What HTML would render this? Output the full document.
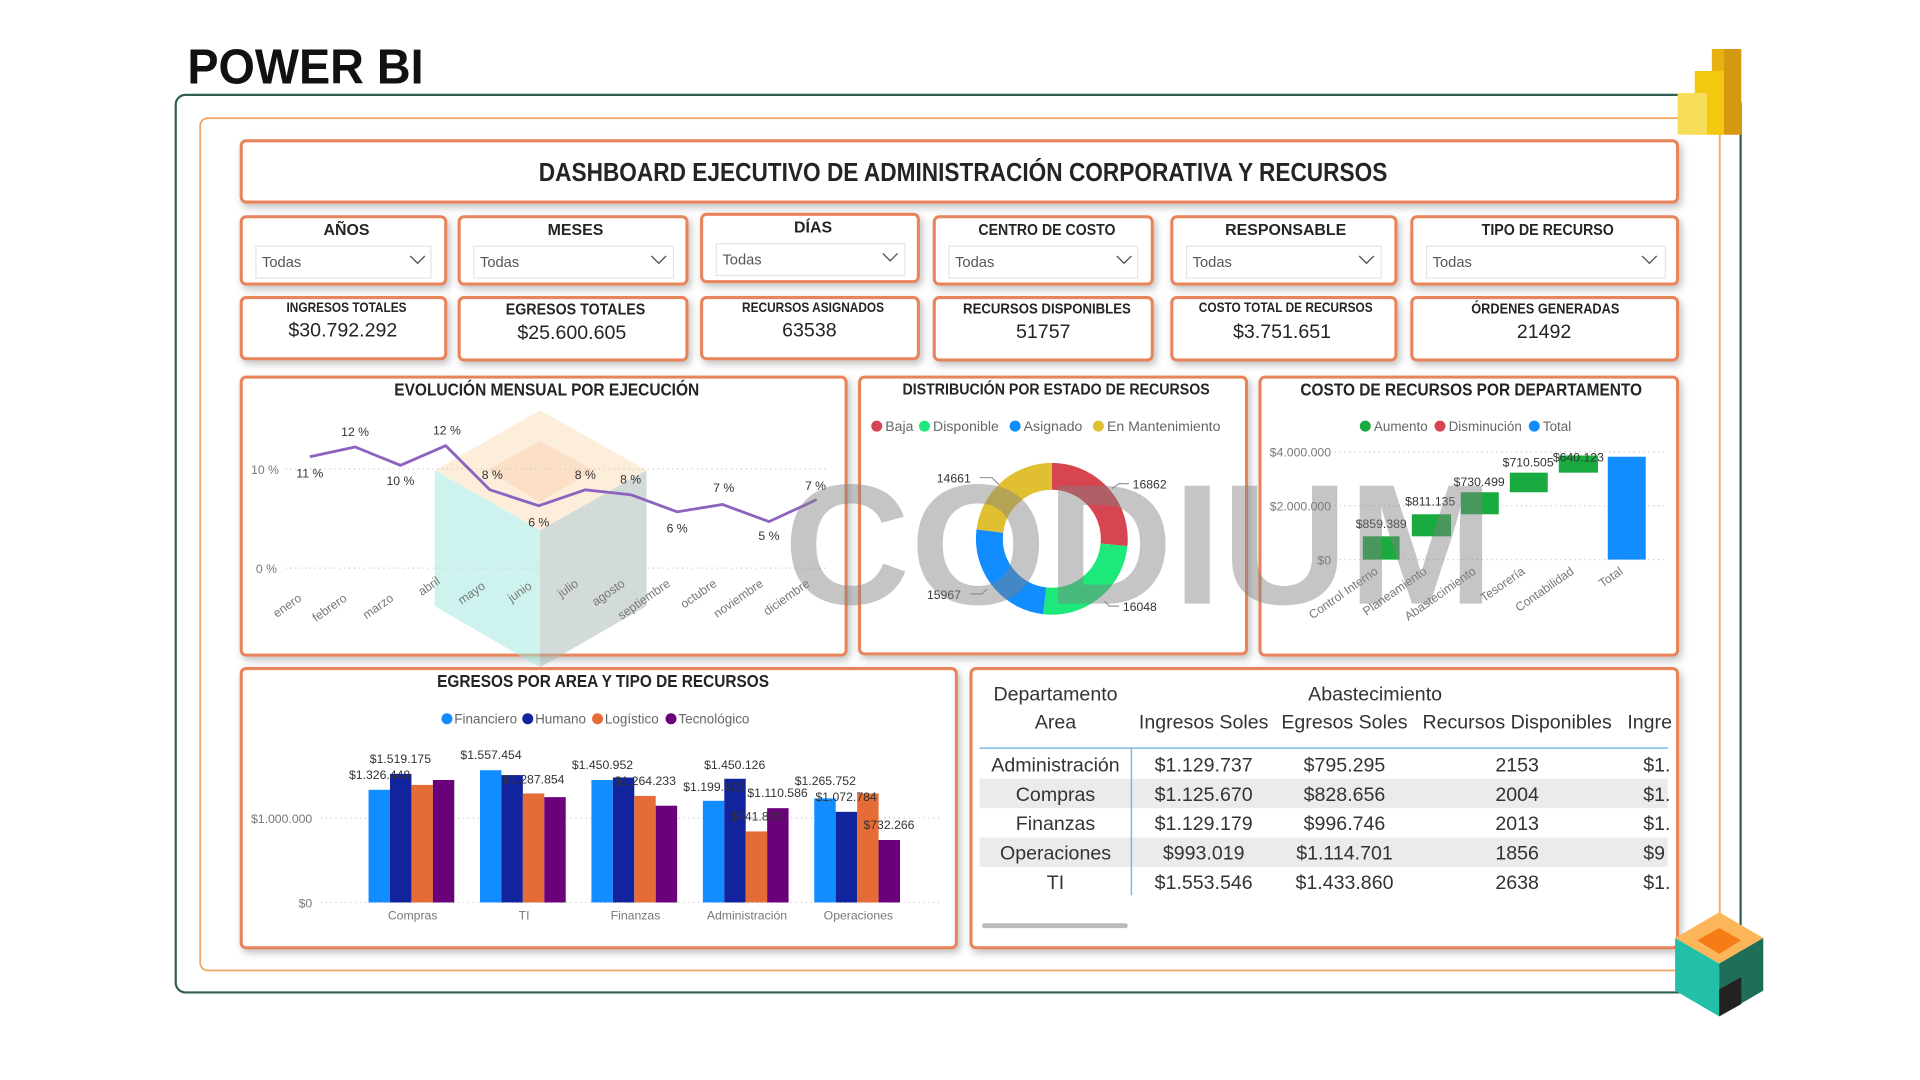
<!DOCTYPE html>
<html><head><meta charset="utf-8"><style>
html,body{margin:0;padding:0;background:#fff;width:1920px;height:1080px;overflow:hidden}
svg{display:block}
text{font-family:"Liberation Sans Narrow","Liberation Sans",sans-serif}
.t{font-weight:bold;fill:#252423}
.ax{fill:#777;font-size:10px}
.lb{fill:#333;font-size:10px}
.tb{font-family:"Liberation Sans",sans-serif;fill:#333;font-size:16px}
</style></head><body>
<svg width="1920" height="1080" viewBox="0 0 1920 1080">
<defs>
<filter id="sh" x="-5%" y="-10%" width="110%" height="130%"><feDropShadow dx="2" dy="3" stdDeviation="3" flood-color="#000" flood-opacity="0.25"/></filter>
</defs>
<g transform="scale(1.22449)">
<text x="153" y="68" font-size="40" font-weight="bold" fill="#111" textLength="193" lengthAdjust="spacingAndGlyphs" style="font-family:'Liberation Sans',sans-serif">POWER BI</text>
<rect x="143.5" y="77.5" width="1278" height="733" rx="8" fill="none" stroke="#2e5e4e" stroke-width="1.8"/>
<rect x="163.5" y="96.5" width="1241" height="696" rx="6" fill="none" stroke="#f0a868" stroke-width="1.5"/>
<!-- power bi logo -->
<rect x="1398" y="40" width="24" height="70" fill="#e8b012"/>
<rect x="1384" y="58" width="24" height="52" fill="#f2c811"/>
<rect x="1370" y="76" width="24" height="34" fill="#f8dd5a"/>
<rect x="1408" y="40" width="14" height="70" fill="#c08010" opacity="0.5"/>
<!-- boxes -->
<g fill="#fff" stroke="#e8845a" stroke-width="2.5" filter="url(#sh)">
<rect x="197" y="115" width="1173" height="50" rx="4"/>
<rect x="197" y="177" width="167" height="55" rx="4"/>
<rect x="375" y="177" width="186" height="55" rx="4"/>
<rect x="573" y="175" width="177" height="55" rx="4"/>
<rect x="763" y="177" width="178" height="55" rx="4"/>
<rect x="957" y="177" width="183" height="55" rx="4"/>
<rect x="1153" y="177" width="217" height="55" rx="4"/>
<rect x="197" y="243" width="167" height="50" rx="4"/>
<rect x="375" y="243" width="186" height="51" rx="4"/>
<rect x="573" y="243" width="177" height="50" rx="4"/>
<rect x="763" y="243" width="178" height="51" rx="4"/>
<rect x="957" y="243" width="183" height="51" rx="4"/>
<rect x="1153" y="243" width="217" height="51" rx="4"/>
<rect x="197" y="308" width="494" height="227" rx="4"/>
<rect x="702" y="308" width="316" height="226" rx="4"/>
<rect x="1029" y="308" width="341" height="227" rx="4"/>
<rect x="197" y="546" width="584" height="228" rx="4"/>
<rect x="793" y="546" width="577" height="228" rx="4"/>
</g>
<text x="440" y="148" font-size="21" class="t" textLength="693" lengthAdjust="spacingAndGlyphs">DASHBOARD EJECUTIVO DE ADMINISTRACIÓN CORPORATIVA Y RECURSOS</text>
<!-- slicers -->
<g font-size="13" class="t" text-anchor="middle">
<text x="283" y="192">AÑOS</text><text x="470" y="192">MESES</text><text x="664" y="190">DÍAS</text>
<text x="855" y="192" textLength="112" lengthAdjust="spacingAndGlyphs">CENTRO DE COSTO</text><text x="1050" y="192">RESPONSABLE</text><text x="1264" y="192" textLength="108" lengthAdjust="spacingAndGlyphs">TIPO DE RECURSO</text>
</g>
<g fill="#fff" stroke="#e4e4e4" stroke-width="1">
<rect x="209" y="201" width="143" height="26"/><rect x="387" y="201" width="163" height="26"/><rect x="585" y="199" width="154" height="26"/>
<rect x="775" y="201" width="154" height="26"/><rect x="969" y="201" width="159" height="26"/><rect x="1165" y="201" width="195" height="26"/>
</g>
<g font-size="12" fill="#555" style="font-family:'Liberation Sans',sans-serif">
<text x="214" y="218">Todas</text><text x="392" y="218">Todas</text><text x="590" y="216">Todas</text>
<text x="780" y="218">Todas</text><text x="974" y="218">Todas</text><text x="1170" y="218">Todas</text>
</g>
<g fill="none" stroke="#555" stroke-width="1.1">
<path d="M335 209l6 6 6-6"/><path d="M532 209l6 6 6-6"/><path d="M721 207l6 6 6-6"/>
<path d="M912 209l6 6 6-6"/><path d="M1110 209l6 6 6-6"/><path d="M1341 209l6 6 6-6"/>
</g>
<!-- KPIs -->
<g text-anchor="middle" class="t">
<text x="283" y="255" font-size="11" textLength="98" lengthAdjust="spacingAndGlyphs">INGRESOS TOTALES</text>
<text x="470" y="257" font-size="13" textLength="114" lengthAdjust="spacingAndGlyphs">EGRESOS TOTALES</text>
<text x="664" y="255" font-size="11" textLength="116" lengthAdjust="spacingAndGlyphs">RECURSOS ASIGNADOS</text>
<text x="855" y="256" font-size="12" textLength="137" lengthAdjust="spacingAndGlyphs">RECURSOS DISPONIBLES</text>
<text x="1050" y="255" font-size="11" textLength="142" lengthAdjust="spacingAndGlyphs">COSTO TOTAL DE RECURSOS</text>
<text x="1262" y="256" font-size="12" textLength="121" lengthAdjust="spacingAndGlyphs">ÓRDENES GENERADAS</text>
</g>
<g text-anchor="middle" font-size="16" fill="#252423" style="font-family:'Liberation Mono','Liberation Sans',sans-serif">
<text x="280" y="275">$30.792.292</text><text x="467" y="277">$25.600.605</text><text x="661" y="275">63538</text>
<text x="852" y="276">51757</text><text x="1047" y="276">$3.751.651</text><text x="1261" y="276">21492</text>
</g>
<!-- line chart -->
<text x="322" y="323" font-size="14" class="t" textLength="249" lengthAdjust="spacingAndGlyphs">EVOLUCIÓN MENSUAL POR EJECUCIÓN</text>
<!-- cube watermark -->
<g opacity="0.5">
<polygon points="441,335 528,384 441,433 355,384" fill="#fcdcb8"/>
<polygon points="441,360 485,384 441,410 398,384" fill="#f8c090"/>
<polygon points="355,384 441,433 441,545 355,495" fill="#9ee8e0"/>
<polygon points="441,433 528,384 528,495 441,545" fill="#a8b8b4"/>
</g>
<g stroke="#ccc" stroke-dasharray="1,3" stroke-width="1"><line x1="233" y1="383" x2="675" y2="383"/><line x1="233" y1="464" x2="675" y2="464"/></g>
<text x="205" y="387" class="ax">10 %</text><text x="209" y="468" class="ax">0 %</text>
<polyline fill="none" stroke="#8c64c0" stroke-width="2.3" points="253,373 290,365 327,380 364,364 400,400 440,413 478,400 515,404 553,418 590,412 628,426 667,408"/>
<g class="lb" text-anchor="middle">
<text x="253" y="390">11 %</text><text x="290" y="356">12 %</text><text x="327" y="396">10 %</text><text x="365" y="355">12 %</text>
<text x="402" y="391">8 %</text><text x="440" y="430">6 %</text><text x="478" y="391">8 %</text><text x="515" y="395">8 %</text>
<text x="553" y="435">6 %</text><text x="591" y="402">7 %</text><text x="628" y="441">5 %</text><text x="666" y="400">7 %</text>
</g>
<g class="ax" font-size="11">
<text transform="translate(247,490) rotate(-35)" text-anchor="end">enero</text>
<text transform="translate(284,490) rotate(-35)" text-anchor="end">febrero</text>
<text transform="translate(322,490) rotate(-35)" text-anchor="end">marzo</text>
<text transform="translate(360,476) rotate(-35)" text-anchor="end">abril</text>
<text transform="translate(397,480) rotate(-35)" text-anchor="end">mayo</text>
<text transform="translate(435,480) rotate(-35)" text-anchor="end">junio</text>
<text transform="translate(473,478) rotate(-35)" text-anchor="end">julio</text>
<text transform="translate(511,478) rotate(-35)" text-anchor="end">agosto</text>
<text transform="translate(548,478) rotate(-35)" text-anchor="end">septiembre</text>
<text transform="translate(586,478) rotate(-35)" text-anchor="end">octubre</text>
<text transform="translate(624,478) rotate(-35)" text-anchor="end">noviembre</text>
<text transform="translate(662,478) rotate(-35)" text-anchor="end">diciembre</text>
</g>
<!-- donut -->
<text x="737" y="322" font-size="13" class="t" textLength="251" lengthAdjust="spacingAndGlyphs">DISTRIBUCIÓN POR ESTADO DE RECURSOS</text>
<g font-size="11.5" fill="#666"><circle cx="716" cy="348" r="4.5" fill="#d64550"/><text x="723" y="352">Baja</text>
<circle cx="755" cy="348" r="4.5" fill="#1de87a"/><text x="762" y="352">Disponible</text>
<circle cx="829" cy="348" r="4.5" fill="#118dff"/><text x="836" y="352">Asignado</text>
<circle cx="897" cy="348" r="4.5" fill="#e0c030"/><text x="904" y="352">En Mantenimiento</text></g>
<g fill="none" stroke-width="22">
<circle cx="859" cy="440" r="51" stroke="#d64550" stroke-dasharray="85 236.4" transform="rotate(-90 859 440)"/>
<circle cx="859" cy="440" r="51" stroke="#1de87a" stroke-dasharray="81 239.4" stroke-dashoffset="-85" transform="rotate(-90 859 440)"/>
<circle cx="859" cy="440" r="51" stroke="#118dff" stroke-dasharray="80.6 239.8" stroke-dashoffset="-166" transform="rotate(-90 859 440)"/>
<circle cx="859" cy="440" r="51" stroke="#e0c030" stroke-dasharray="73.8 246.6" stroke-dashoffset="-246.6" transform="rotate(-90 859 440)"/>
</g>
<g class="lb" font-size="12"><text x="765" y="394">14661</text><text x="925" y="399">16862</text><text x="757" y="489">15967</text><text x="917" y="499">16048</text></g>
<g stroke="#999" fill="none"><path d="M800 390h10l6 6"/><path d="M922 395h-8l-6 4"/><path d="M792 485h10l4-4"/><path d="M914 495h-8l-4-4"/></g>
<!-- waterfall -->
<text x="1062" y="323" font-size="14" class="t" textLength="279" lengthAdjust="spacingAndGlyphs">COSTO DE RECURSOS POR DEPARTAMENTO</text>
<g font-size="11" fill="#666"><circle cx="1115" cy="348" r="4.5" fill="#1aab40"/><text x="1122" y="352">Aumento</text>
<circle cx="1176" cy="348" r="4.5" fill="#d64550"/><text x="1183" y="352">Disminución</text>
<circle cx="1253" cy="348" r="4.5" fill="#118dff"/><text x="1260" y="352">Total</text></g>
<g stroke="#ccc" stroke-dasharray="1,3"><line x1="1090" y1="369" x2="1360" y2="369"/><line x1="1090" y1="413" x2="1360" y2="413"/><line x1="1090" y1="457" x2="1360" y2="457"/></g>
<g class="ax" text-anchor="end"><text x="1087" y="373">$4.000.000</text><text x="1087" y="417">$2.000.000</text><text x="1087" y="461">$0</text></g>
<g fill="#1aab40"><rect x="1113" y="438" width="30" height="19"/><rect x="1153" y="420" width="32" height="18"/><rect x="1193" y="402" width="31" height="18"/><rect x="1233" y="386" width="31" height="16"/><rect x="1273" y="372" width="32" height="14"/></g>
<rect x="1313" y="373" width="31" height="84" fill="#118dff"/>
<g class="lb" font-size="9.5" text-anchor="middle"><text x="1128" y="431">$859.389</text><text x="1168" y="413">$811.135</text><text x="1208" y="397">$730.499</text><text x="1248" y="381">$710.505</text><text x="1289" y="377">$640.123</text></g>
<g class="ax" font-size="11" text-anchor="end">
<text transform="translate(1126,468) rotate(-35)">Control Interno</text>
<text transform="translate(1166,468) rotate(-35)">Planeamiento</text>
<text transform="translate(1206,468) rotate(-35)">Abastecimiento</text>
<text transform="translate(1246,468) rotate(-35)">Tesorería</text>
<text transform="translate(1286,468) rotate(-35)">Contabilidad</text>
<text transform="translate(1326,468) rotate(-35)">Total</text>
</g>
<!-- bar chart -->
<text x="357" y="561" font-size="14" class="t" textLength="271" lengthAdjust="spacingAndGlyphs">EGRESOS POR AREA Y TIPO DE RECURSOS</text>
<g font-size="11" fill="#666"><circle cx="365" cy="587" r="4.5" fill="#118dff"/><text x="371" y="591">Financiero</text>
<circle cx="431" cy="587" r="4.5" fill="#12239e"/><text x="437" y="591">Humano</text>
<circle cx="488" cy="587" r="4.5" fill="#e66c37"/><text x="494" y="591">Logístico</text>
<circle cx="548" cy="587" r="4.5" fill="#6b007b"/><text x="554" y="591">Tecnológico</text></g>
<g stroke="#ccc" stroke-dasharray="1,3"><line x1="262" y1="668" x2="770" y2="668"/><line x1="262" y1="737" x2="770" y2="737"/></g>
<g class="ax" text-anchor="end"><text x="255" y="672">$1.000.000</text><text x="255" y="741">$0</text></g>
<g>
<rect x="301" y="645" width="17.5" height="92" fill="#118dff"/><rect x="318.5" y="632" width="17.5" height="105" fill="#12239e"/><rect x="336" y="641" width="17.5" height="96" fill="#e66c37"/><rect x="353.5" y="637" width="17.5" height="100" fill="#6b007b"/>
<rect x="392" y="629" width="17.5" height="108" fill="#118dff"/><rect x="409.5" y="633" width="17.5" height="104" fill="#12239e"/><rect x="427" y="648" width="17.5" height="89" fill="#e66c37"/><rect x="444.5" y="651" width="17.5" height="86" fill="#6b007b"/>
<rect x="483" y="637" width="17.5" height="100" fill="#118dff"/><rect x="500.5" y="635" width="17.5" height="102" fill="#12239e"/><rect x="518" y="650" width="17.5" height="87" fill="#e66c37"/><rect x="535.5" y="658" width="17.5" height="79" fill="#6b007b"/>
<rect x="574" y="654" width="17.5" height="83" fill="#118dff"/><rect x="591.5" y="636" width="17.5" height="101" fill="#12239e"/><rect x="609" y="679" width="17.5" height="58" fill="#e66c37"/><rect x="626.5" y="660" width="17.5" height="77" fill="#6b007b"/>
<rect x="665" y="652" width="17.5" height="85" fill="#118dff"/><rect x="682.5" y="663" width="17.5" height="74" fill="#12239e"/><rect x="700" y="648" width="17.5" height="89" fill="#e66c37"/><rect x="717.5" y="686" width="17.5" height="51" fill="#6b007b"/>
</g>
<g class="lb" font-size="9.5" text-anchor="middle">
<text x="310" y="636">$1.326.448</text><text x="327" y="623">$1.519.175</text>
<text x="401" y="620">$1.557.454</text><text x="436" y="640">$1.287.854</text>
<text x="492" y="628">$1.450.952</text><text x="527" y="641">$1.264.233</text>
<text x="583" y="646">$1.199.422</text><text x="600" y="628">$1.450.126</text><text x="618" y="670">$841.829</text><text x="635" y="651">$1.110.586</text>
<text x="674" y="641">$1.265.752</text><text x="691" y="654">$1.072.784</text><text x="726" y="677">$732.266</text>
</g>
<g class="ax" font-size="11" fill="#333" text-anchor="middle"><text x="337" y="751">Compras</text><text x="428" y="751">TI</text><text x="519" y="751">Finanzas</text><text x="610" y="751">Administración</text><text x="701" y="751">Operaciones</text></g>
<!-- table -->
<rect x="800" y="636" width="562" height="24" fill="#ebebeb"/>
<rect x="800" y="684" width="562" height="24" fill="#ebebeb"/>
<line x1="800" y1="611" x2="1362" y2="611" stroke="#7ab8e8" stroke-width="1.2"/>
<line x1="924" y1="611" x2="924" y2="731" stroke="#7ab8e8" stroke-width="1.2"/>
<g class="tb" text-anchor="middle">
<text x="862" y="572">Departamento</text><text x="1123" y="572">Abastecimiento</text>
<text x="862" y="595">Area</text><text x="983" y="595">Ingresos Soles</text><text x="1098" y="595">Egresos Soles</text><text x="1239" y="595">Recursos Disponibles</text>
<text x="862" y="630">Administración</text><text x="983" y="630">$1.129.737</text><text x="1098" y="630">$795.295</text><text x="1239" y="630">2153</text>
<text x="862" y="654">Compras</text><text x="983" y="654">$1.125.670</text><text x="1098" y="654">$828.656</text><text x="1239" y="654">2004</text>
<text x="862" y="678">Finanzas</text><text x="983" y="678">$1.129.179</text><text x="1098" y="678">$996.746</text><text x="1239" y="678">2013</text>
<text x="862" y="702">Operaciones</text><text x="983" y="702">$993.019</text><text x="1098" y="702">$1.114.701</text><text x="1239" y="702">1856</text>
<text x="862" y="726">TI</text><text x="983" y="726">$1.553.546</text><text x="1098" y="726">$1.433.860</text><text x="1239" y="726">2638</text>
</g>
<g class="tb"><text x="1329" y="595">Ingre</text><text x="1342" y="630">$1.</text><text x="1342" y="654">$1.</text><text x="1342" y="678">$1.</text><text x="1342" y="702">$9</text><text x="1342" y="726">$1.</text></g>
<rect x="1363" y="600" width="5" height="140" fill="#fff"/>
<rect x="802" y="754" width="119" height="4" rx="2" fill="#bbb"/>
<!-- CODIUM watermark -->
<text x="640" y="493" font-size="140" font-weight="bold" fill="#808080" opacity="0.45" textLength="580" lengthAdjust="spacingAndGlyphs" style="font-family:'Liberation Sans',sans-serif">CODIUM</text>
<!-- cube logo -->
<polygon points="1404,745 1440,766 1404,787 1368,766" fill="#fdb55a"/>
<polygon points="1404,758 1422,768 1404,779 1386,768" fill="#f57c14"/>
<polygon points="1368,766 1404,787 1404,830 1368,809" fill="#22c0a8"/>
<polygon points="1404,787 1440,766 1440,809 1404,830" fill="#1f6e58"/>
<polygon points="1404,808 1422,798 1422,820 1404,830" fill="#222"/>
</g>
</svg>
</body></html>
